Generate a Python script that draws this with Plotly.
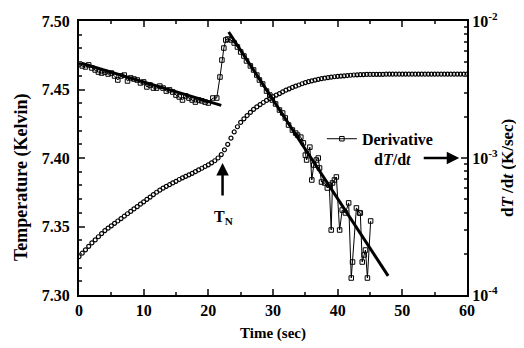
import plotly.graph_objects as go

# ---------------- data ----------------
temp_time = [i * 0.5 for i in range(121)]
temp_values = [
    7.3280, 7.3305, 7.3330, 7.3355, 7.3380, 7.3402, 7.3425, 7.3448, 7.3470, 7.3488,
    7.3505, 7.3523, 7.3540, 7.3558, 7.3575, 7.3593, 7.3610, 7.3628, 7.3645, 7.3663,
    7.3680, 7.3698, 7.3715, 7.3733, 7.3750, 7.3765, 7.3780, 7.3793, 7.3805, 7.3818,
    7.3830, 7.3843, 7.3855, 7.3866, 7.3877, 7.3888, 7.3900, 7.3913, 7.3925, 7.3938,
    7.3950, 7.3965, 7.3980, 7.4000, 7.4025, 7.4060, 7.4100, 7.4145, 7.4190, 7.4228,
    7.4260, 7.4286, 7.4310, 7.4333, 7.4355, 7.4373, 7.4390, 7.4405, 7.4420, 7.4434,
    7.4448, 7.4459, 7.4470, 7.4483, 7.4495, 7.4505, 7.4515, 7.4524, 7.4533, 7.4542,
    7.4550, 7.4557, 7.4563, 7.4569, 7.4574, 7.4579, 7.4583, 7.4587, 7.4590, 7.4593,
    7.4596, 7.4598, 7.4600, 7.4602, 7.4604, 7.4606, 7.4607, 7.4608, 7.4609, 7.4610,
    7.4610, 7.4611, 7.4611, 7.4611, 7.4611, 7.4612, 7.4612, 7.4612, 7.4612, 7.4612,
    7.4612, 7.4612, 7.4612, 7.4612, 7.4612, 7.4612, 7.4612, 7.4612, 7.4612, 7.4612,
    7.4612, 7.4612, 7.4612, 7.4612, 7.4612, 7.4612, 7.4612, 7.4612, 7.4612, 7.4612,
    7.4612,
]

deriv_time = [
    0.0, 0.5, 1.0, 1.5, 2.0, 2.5, 3.0, 3.5, 4.0, 4.5, 5.0, 5.5, 6.0, 6.5, 7.0, 7.5,
    8.0, 8.5, 9.0, 9.5, 10.0, 10.5, 11.0, 11.5, 12.0, 12.5, 13.0, 13.5, 14.0, 14.5,
    15.0, 15.5, 16.0, 16.5, 17.0, 17.5, 18.0, 18.5, 19.0, 19.5, 20.0, 20.7, 21.3,
    21.8, 22.1, 22.4, 22.7, 23.0, 23.5, 24.0, 24.5, 25.0, 25.5, 25.9, 26.5, 27.0,
    27.5, 27.9, 28.4, 29.0, 29.5, 29.9, 30.4, 31.0, 31.5, 31.9, 32.4, 33.0, 33.5,
    33.8, 34.3, 34.7, 35.0, 35.2, 35.7, 36.0, 36.3, 36.7, 37.0, 37.2, 37.5, 38.0,
    38.4, 38.7, 39.0, 39.2, 39.5, 39.8, 40.3, 40.7, 41.2, 41.7, 42.1, 42.3, 42.9,
    43.4, 43.5, 43.8, 44.1, 44.3, 44.6, 45.1,
]
deriv_values = [
    4.86e-3, 4.70e-3, 4.62e-3, 4.78e-3, 4.54e-3, 4.39e-3, 4.24e-3, 4.17e-3, 4.24e-3,
    4.10e-3, 4.17e-3, 3.97e-3, 3.71e-3, 3.97e-3, 4.03e-3, 3.65e-3, 3.84e-3, 3.77e-3,
    3.71e-3, 3.53e-3, 3.59e-3, 3.30e-3, 3.41e-3, 3.24e-3, 3.24e-3, 3.35e-3, 3.24e-3,
    3.08e-3, 3.14e-3, 3.03e-3, 2.88e-3, 2.79e-3, 2.65e-3, 2.84e-3, 2.74e-3, 2.65e-3,
    2.56e-3, 2.65e-3, 2.61e-3, 2.56e-3, 2.52e-3, 2.74e-3, 2.74e-3,
    3.90e-3, 5.19e-3, 6.35e-3, 7.27e-3, 7.39e-3, 7.27e-3, 6.91e-3, 6.46e-3, 5.94e-3,
    5.55e-3, 5.11e-3, 4.70e-3, 4.39e-3, 4.03e-3, 3.71e-3, 3.47e-3, 3.08e-3, 2.88e-3,
    2.65e-3, 2.48e-3, 2.24e-3, 2.13e-3, 1.96e-3, 1.74e-3, 1.60e-3, 1.52e-3, 1.47e-3,
    1.42e-3, 1.29e-3, 1.05e-3, 9.67e-4, 1.20e-3, 6.91e-4, 8.89e-4, 9.67e-4, 1.00e-3,
    8.45e-4, 6.68e-4, 6.57e-4, 6.04e-4, 6.35e-4, 2.98e-4, 6.57e-4, 6.91e-4, 7.27e-4,
    2.98e-4, 4.17e-4, 3.97e-4, 4.70e-4, 1.33e-4, 1.74e-4, 4.32e-4, 3.97e-4, 3.97e-4,
    1.74e-4, 1.96e-4, 2.13e-4, 1.33e-4, 3.47e-4,
]

fit1_time = [0.0, 22.0]
fit1_values = [4.98e-3, 2.42e-3]
fit2_time = [23.15, 47.8]
fit2_values = [8.31e-3, 1.38e-4]

x_ticks = [0, 10, 20, 30, 40, 50, 60]
y_ticks = [7.30, 7.35, 7.40, 7.45, 7.50]
y2_ticks = [1e-4, 1e-3, 1e-2]
y2_ticktext = ["10<sup>-4</sup>", "10<sup>-3</sup>", "10<sup>-2</sup>"]
y2_minor = [2e-4, 3e-4, 4e-4, 5e-4, 6e-4, 7e-4, 8e-4, 9e-4,
            2e-3, 3e-3, 4e-3, 5e-3, 6e-3, 7e-3, 8e-3, 9e-3]

# ---------------- figure ----------------
FONT = "Liberation Serif, Times New Roman, serif"
fig = go.Figure()

fig.add_trace(go.Scatter(
    x=temp_time, y=temp_values, mode="markers", yaxis="y",
    marker=dict(symbol="circle-open", size=4, color="black", line=dict(width=1.2, color="black")),
    showlegend=False, hoverinfo="skip",
))
fig.add_trace(go.Scatter(
    x=deriv_time, y=deriv_values, mode="lines+markers", yaxis="y2",
    name="<b>Derivative</b>",
    line=dict(color="black", width=1),
    marker=dict(symbol="square-open", size=4.5, color="black", line=dict(width=1, color="black")),
    showlegend=True,
))
fig.add_trace(go.Scatter(
    x=fit1_time, y=fit1_values, mode="lines", yaxis="y2",
    line=dict(color="black", width=3), showlegend=False,
))
fig.add_trace(go.Scatter(
    x=fit2_time, y=fit2_values, mode="lines", yaxis="y2",
    line=dict(color="black", width=3), showlegend=False,
))

axis_font = dict(family=FONT, size=16, color="black", weight="bold")

# the page body adds an 8 px margin, so the figure is 8 px smaller and offset
fig.update_layout(
    width=516, height=340,
    margin=dict(l=71, r=57, t=13, b=53, autoexpand=False),
    paper_bgcolor="white", plot_bgcolor="white",
    font=dict(family=FONT, size=16, color="black"),
    xaxis=dict(
        range=[0, 60], tickvals=x_ticks, ticks="inside", ticklen=6, tickwidth=1.5,
        showline=True, linecolor="black", linewidth=2, mirror="ticks",
        showgrid=False, zeroline=False, tickfont=axis_font, automargin=False,
        minor=dict(dtick=5, ticks="inside", ticklen=3, tickwidth=1.5, showgrid=False),
    ),
    yaxis=dict(
        range=[7.30, 7.50], tickvals=y_ticks, tickformat=".2f", ticks="inside", ticklen=6,
        tickwidth=1.5, showline=True, linecolor="black", linewidth=2,
        showgrid=False, zeroline=False, tickfont=axis_font, automargin=False,
        ticklabelstandoff=4,
        minor=dict(dtick=0.01, ticks="inside", ticklen=3, tickwidth=1.5, showgrid=False),
    ),
    yaxis2=dict(
        type="log", range=[-4, -2], overlaying="y", side="right",
        tickvals=y2_ticks, ticktext=y2_ticktext, ticks="inside", ticklen=6, tickwidth=1.5,
        showline=True, linecolor="black", linewidth=2, showgrid=False, zeroline=False,
        tickfont=axis_font, automargin=False,
        minor=dict(tickvals=y2_minor, ticks="inside", ticklen=3, tickwidth=1.5, showgrid=False),
    ),
    legend=dict(
        x=0.626, y=0.57, xanchor="left", yanchor="middle",
        bgcolor="rgba(0,0,0,0)", borderwidth=0,
        font=dict(family=FONT, size=16, color="black"),
        itemwidth=30,
    ),
    showlegend=True,
)

title_font = dict(family=FONT, size=18, color="black")
# axis titles
fig.add_annotation(
    x=0.5, y=-0.14, xref="paper", yref="paper", xanchor="center", yanchor="middle",
    text="<b>Time (sec)</b>", showarrow=False,
    font=dict(family=FONT, size=15, color="black"),
)
fig.add_annotation(
    x=0, y=0.427, xref="paper", yref="paper", xshift=-58,
    xanchor="center", yanchor="middle",
    text="<b>Temperature (Kelvin)</b>", showarrow=False, textangle=-90,
    font=title_font,
)
fig.add_annotation(
    x=1, y=0.4635, xref="paper", yref="paper", xshift=40,
    xanchor="center", yanchor="middle",
    text="<b>d<i>T</i> /d<i>t</i> (K/sec)</b>", showarrow=False, textangle=-90,
    font=dict(family=FONT, size=17, color="black"),
)

# dT/dt label and arrow to right axis
fig.add_annotation(
    x=0.809, y=0.496, xref="paper", yref="paper", xanchor="center", yanchor="middle",
    text="<b>d<i>T</i>/d<i>t</i></b>", showarrow=False,
    font=dict(family=FONT, size=16, color="black"),
)
fig.add_annotation(
    x=58.8, y=-3, xref="x", yref="y2",
    ax=-37, ay=0, axref="pixel", ayref="pixel",
    text="", showarrow=True, arrowhead=2, arrowsize=1, arrowwidth=2.5, arrowcolor="black",
)
# T_N arrow and label
fig.add_annotation(
    x=22.2, y=7.3964, xref="x", yref="y",
    ax=0, ay=34, text="", showarrow=True,
    arrowhead=2, arrowsize=1, arrowwidth=2.5, arrowcolor="black",
)
fig.add_annotation(
    x=22.4, y=7.3569, xref="x", yref="y", xanchor="center", yanchor="middle",
    text="<b>T<sub>N</sub></b>", showarrow=False,
    font=dict(family=FONT, size=16, color="black"),
)

fig.write_html("out.html")
